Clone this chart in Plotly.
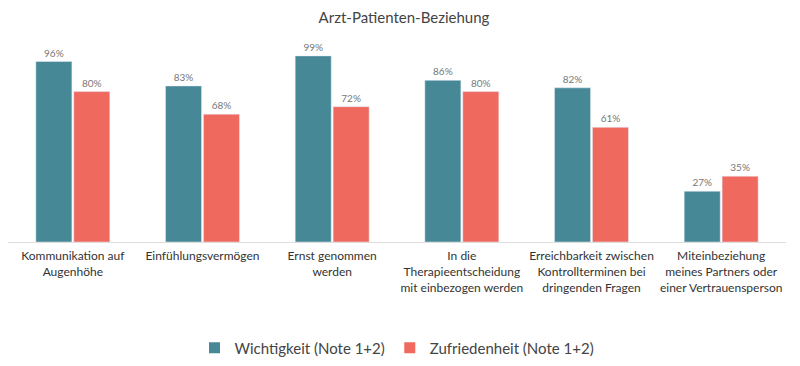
import plotly.graph_objects as go

categories = [
    "Kommunikation auf<br>Augenhöhe",
    "Einfühlungsvermögen",
    "Ernst genommen<br>werden",
    "In die<br>Therapieentscheidung<br>mit einbezogen werden",
    "Erreichbarkeit zwischen<br>Kontrollterminen bei<br>dringenden Fragen",
    "Miteinbeziehung<br>meines Partners oder<br>einer Vertrauensperson",
]
wichtigkeit = [96, 83, 99, 86, 82, 27]
zufriedenheit = [80, 68, 72, 80, 61, 35]
series_names = ["Wichtigkeit (Note 1+2)", "Zufriedenheit (Note 1+2)"]
colors = ["#468896", "#EF695F"]

fig = go.Figure()
for name, vals, col in zip(series_names, [wichtigkeit, zufriedenheit], colors):
    fig.add_trace(go.Bar(
        x=categories, y=vals, name=name, marker_color=col, showlegend=False,
        legendgroup=name,
        text=[f"{v}%" for v in vals], textposition="outside",
        textfont=dict(size=10, color="#777777"), cliponaxis=False,
    ))
for name, col in zip(series_names, colors):
    fig.add_trace(go.Scatter(
        x=[None], y=[None], mode="markers", name=name, legendgroup=name,
        marker=dict(symbol="square", size=11, color=col),
    ))

fig.update_layout(
    width=792, height=358,
    font=dict(family="Lato, 'Open Sans', sans-serif", color="#333333"),
    title=dict(text="Arzt-Patienten-Beziehung", x=0.5, xanchor="center", y=0.972, yanchor="middle",
               font=dict(size=15, color="#444444")),
    margin=dict(l=0, r=14, t=46, b=124, autoexpand=False),
    plot_bgcolor="white", paper_bgcolor="white",
    barmode="group", bargap=0.415, bargroupgap=0.05,
    xaxis=dict(showline=True, linecolor="#dddddd", linewidth=1, tickfont=dict(size=12, color="#333333"),
               ticks="", showgrid=False, tickangle=0, automargin=False, ticklabelstandoff=3),
    yaxis=dict(range=[0, 100], visible=False, showgrid=False, automargin=False),
    legend=dict(orientation="h", x=0.5, xanchor="center", y=-0.564, yanchor="middle",
                font=dict(size=15, color="#444444"), itemwidth=30, tracegroupgap=0),
    uniformtext=dict(minsize=10, mode="show"),
)
fig.write_html("out.html")
